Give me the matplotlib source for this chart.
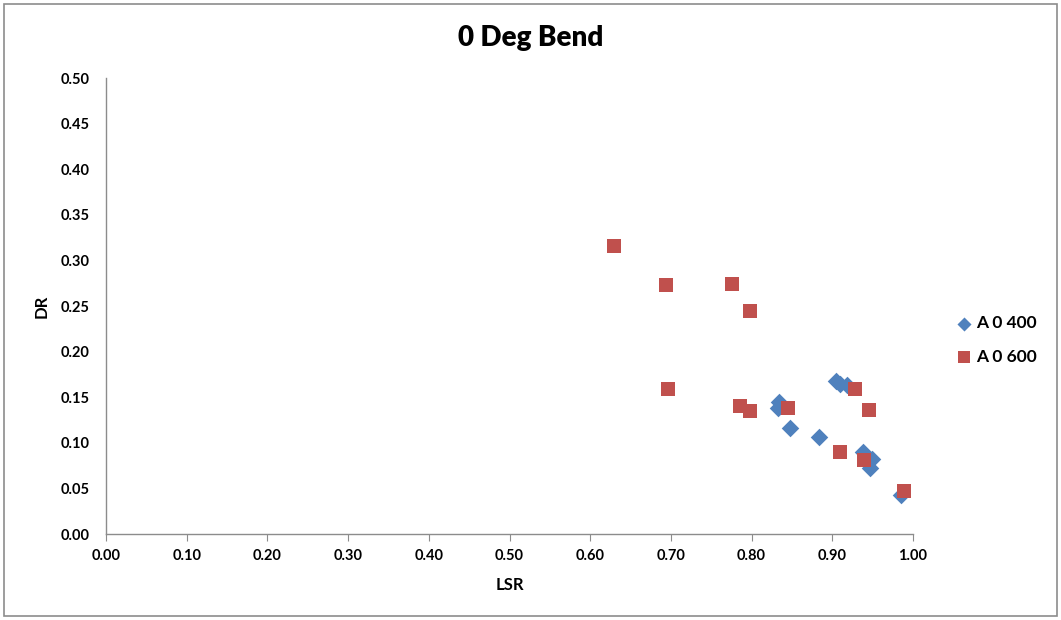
import matplotlib
matplotlib.use("Agg")
import matplotlib.pyplot as plt
from matplotlib.patches import Rectangle

plt.rcParams['font.family'] = ['Lato', 'DejaVu Sans']

title = "0 Deg Bend"
x_label = "LSR"
y_label = "DR"
series_names = ["A 0 400", "A 0 600"]

lsr_400 = [0.905, 0.909, 0.918, 0.834, 0.833, 0.847, 0.883, 0.938, 0.949, 0.947, 0.985]
dr_400 = [0.168, 0.165, 0.163, 0.145, 0.138, 0.116, 0.106, 0.090, 0.082, 0.072, 0.043]

lsr_600 = [0.629, 0.694, 0.776, 0.798, 0.696, 0.786, 0.798, 0.845, 0.928, 0.945, 0.909, 0.939, 0.989]
dr_600 = [0.316, 0.273, 0.274, 0.2445, 0.159, 0.140, 0.135, 0.138, 0.159, 0.136, 0.090, 0.0815, 0.047]

x_ticks = [0.0, 0.1, 0.2, 0.3, 0.4, 0.5, 0.6, 0.7, 0.8, 0.9, 1.0]
y_ticks = [0.0, 0.05, 0.10, 0.15, 0.20, 0.25, 0.30, 0.35, 0.40, 0.45, 0.50]

blue = "#4F81BD"
red = "#C0504D"

fig = plt.figure(figsize=(10.61, 6.20), dpi=100)
fig.patches.append(Rectangle((0.004, 0.006), 0.992, 0.988, transform=fig.transFigure,
                             fill=False, edgecolor="#8c8c8c", linewidth=1.2))
ax = fig.add_axes([106/1061, 1-534/620, (913-106)/1061, (534-78)/620])

ax.scatter(lsr_400, dr_400, marker="D", s=80, color=blue, zorder=3, label=series_names[0], linewidths=0)
ax.scatter(lsr_600, dr_600, marker="s", s=110, color=red, zorder=3, label=series_names[1], linewidths=0)

ax.set_xlim(0, 1.0)
ax.set_ylim(0, 0.5)
ax.set_xticks(x_ticks)
ax.set_yticks(y_ticks)
ax.set_xticklabels([f"{v:.2f}" for v in x_ticks], fontsize=10.5, fontweight="bold")
ax.set_yticklabels([f"{v:.2f}" for v in y_ticks], fontsize=10.5, fontweight="bold")
for s in ["top", "right"]:
    ax.spines[s].set_visible(False)
for s in ["left", "bottom"]:
    ax.spines[s].set_color("#8c8c8c")
    ax.spines[s].set_linewidth(1.0)
ax.tick_params(axis="x", length=5, color="#8c8c8c", direction="out", pad=6)
ax.tick_params(axis="y", length=0, pad=12)

ax.set_xlabel(x_label, fontsize=12, fontweight="bold", labelpad=10)
ax.set_ylabel(y_label, fontsize=12, fontweight="bold", labelpad=8)
fig.text(0.5, 1-38/620, title, ha="center", va="center", fontsize=20, fontweight="heavy")

leg = fig.legend(loc="center left", bbox_to_anchor=(938/1061, 1-340/620), frameon=False,
                 prop={"size": 12.5, "weight": "bold"}, handletextpad=0.1, labelspacing=1.0,
                 handlelength=1.2, markerscale=0.8)

fig.savefig("out.png", dpi=100)
